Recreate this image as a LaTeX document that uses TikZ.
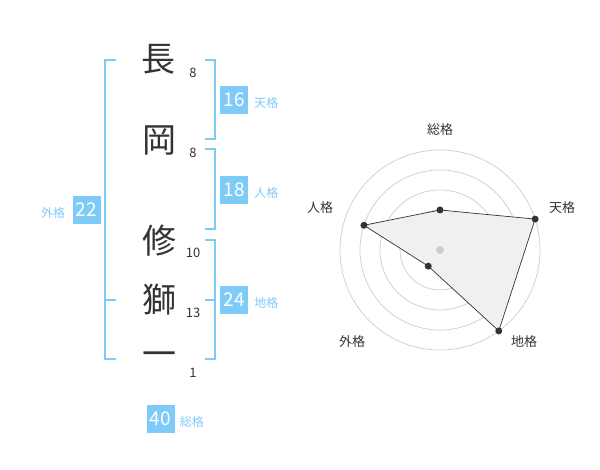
\documentclass[tikz,border=0pt]{standalone}
\usepackage{fontspec}
\setmainfont{Noto Sans CJK JP}
\usepackage{tikz}
\usetikzlibrary{positioning}
\definecolor{sky}{HTML}{7FCBF7}
\definecolor{ink}{HTML}{333333}
\definecolor{ring}{HTML}{CCCCCC}
\definecolor{shade}{HTML}{F0F0F0}
\tikzstyle{kanji} = [font=\fontsize{34}{34}\selectfont, text=ink, inner sep=0pt]
\tikzstyle{strokes} = [font=\fontsize{13}{13}\selectfont, text=ink, inner sep=0pt]
\tikzstyle{score} = [rectangle, minimum width=28pt, minimum height=28pt, inner sep=0pt, fill=sky, text=white, font=\fontsize{19}{19}\selectfont]
\tikzstyle{tag} = [text=sky, inner sep=0pt, font=\fontsize{12}{12}\selectfont]
\tikzstyle{bracket} = [draw=sky, line width=1.6pt]
\tikzstyle{axis} = [text=ink, inner sep=0pt, font=\fontsize{13}{13}\selectfont]
\tikzstyle{ringline} = [draw=ring, line width=0.7pt]
\tikzstyle{dot} = [circle, fill=ink, inner sep=0pt, minimum size=7pt]

\begin{document}
\begin{tikzpicture}[x=1pt, y=-1pt]
  \useasboundingbox (0,0) rectangle (600,470);

  \node (ch1) [kanji] at (158,59) {長};
  \node (ch2) [kanji] at (159,141) {岡};
  \node (ch3) [kanji] at (159,241) {修};
  \node (ch4) [kanji] at (159,300) {獅};
  \node (ch5) [kanji] at (159,359) {一};

  \node (st1) [strokes] at (193,73) {8};
  \node (st2) [strokes] at (193,153) {8};
  \node (st3) [strokes] at (193,253) {10};
  \node (st4) [strokes] at (193,313) {13};
  \node (st5) [strokes] at (193,373) {1};

  \draw [bracket] (116,60) -- (105,60) -- (105,359) -- (116,359);
  \draw [bracket] (105,300) -- (116,300);
  \draw [bracket] (205,60) -- (215,60) -- (215,139) -- (205,139);
  \draw [bracket] (205,149) -- (215,149) -- (215,229) -- (205,229);
  \draw [bracket] (205,240) -- (215,240) -- (215,359) -- (205,359);
  \draw [bracket] (205,300) -- (215,300);

  \node (ten) [score] at (234,100) {16};
  \node (jin) [score] at (234,190) {18};
  \node (chi) [score] at (234,300) {24};
  \node (gai) [score] at (86.5,210) {22};
  \node (sou) [score] at (160.5,419) {40};
  \node (tten) [tag, right=6pt of ten, yshift=-3pt] {天格};
  \node (tjin) [tag, right=6pt of jin, yshift=-3pt] {人格};
  \node (tchi) [tag, right=6pt of chi, yshift=-3pt] {地格};
  \node (tgai) [tag, left=7pt of gai, yshift=-3pt] {外格};
  \node (tsou) [tag, right=5pt of sou, yshift=-3pt] {総格};

  \coordinate (c) at (440,250);
  \foreach \r in {20,40,...,100}
    \draw [ringline] (c) circle (\r);
  \coordinate (psou) at ([shift={(-90:40)}]c);
  \coordinate (pten) at ([shift={(-18:100)}]c);
  \coordinate (pchi) at ([shift={(54:100)}]c);
  \coordinate (pgai) at ([shift={(126:20)}]c);
  \coordinate (pjin) at ([shift={(198:80)}]c);
  \draw [fill=shade, draw=ink, line width=0.7pt] (psou) -- (pten) -- (pchi) -- (pgai) -- (pjin) -- cycle;
  \fill [ring] (c) circle (4);
  \foreach \p in {psou,pten,pchi,pgai,pjin}
    \node (d\p) [dot] at (\p) {};

  \node (asou) [axis] at (440,130) {総格};
  \node (aten) [axis] at (562,208) {天格};
  \node (achi) [axis] at (524,342) {地格};
  \node (agai) [axis] at (352,342) {外格};
  \node (ajin) [axis] at (320,208) {人格};
\end{tikzpicture}
\end{document}
